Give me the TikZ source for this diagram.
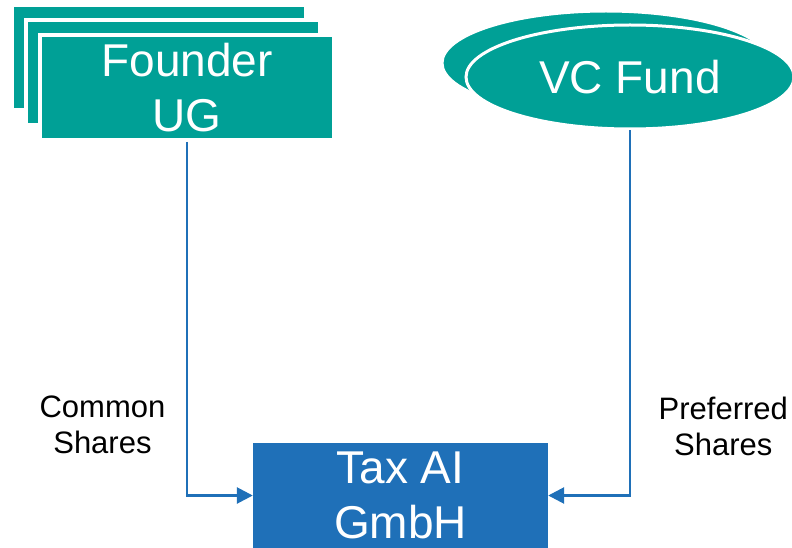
\documentclass[tikz,border=0pt]{standalone}
\usepackage{fontspec}
\setmainfont{Liberation Sans}
\usetikzlibrary{positioning}
\usetikzlibrary{shapes.geometric}
\usetikzlibrary{arrows.meta}

\definecolor{holdteal}{HTML}{00A096}
\definecolor{gmbhblue}{HTML}{1F70B8}

\begin{document}
\begin{tikzpicture}[x=1pt, y=-1pt,
			holder/.style={draw=white, line width=4pt, fill=holdteal, text=white, inner sep=0pt,
				minimum width=294pt, minimum height=105pt, align=center, font=\fontsize{46}{55}\selectfont},
			fund/.style={ellipse, draw=white, line width=3pt, fill=holdteal, text=white, inner sep=0pt,
				minimum width=328pt, minimum height=104pt, font=\fontsize{46}{55}\selectfont},
			share/.style={draw=gmbhblue, line width=2.7pt, -{Triangle[length=16pt, width=16pt]}},
			sharelabel/.style={align=center, font=\fontsize{31}{36}\selectfont}]
			\useasboundingbox (0,0) rectangle (792,548);
			% stacked founder entities
			\node[holder](founder3) at (159,58){};
			\node[holder](founder2) at (173,73){};
			\node[holder](founder) at (187,87.5){Founder\\UG};
			% investor
			\node[fund](vcback) at (606,63){};
			\node[fund](vc) at (630,77){VC Fund};
			% company
			\node[fill=gmbhblue, text=white, inner sep=0pt, minimum width=295pt, minimum height=105pt,
				align=center, font=\fontsize{46}{55}\selectfont](tax) at (400.5,495.5){Tax AI\\GmbH};
			\path[share] (founder.south) |- node[pos=0.4, left=17pt, sharelabel]{Common\\Shares} (tax.west);
			\path[share] (vc.south) |- node[pos=0.405, right=24pt, sharelabel]{Preferred\\Shares} (tax.east);
\end{tikzpicture}
\end{document}
